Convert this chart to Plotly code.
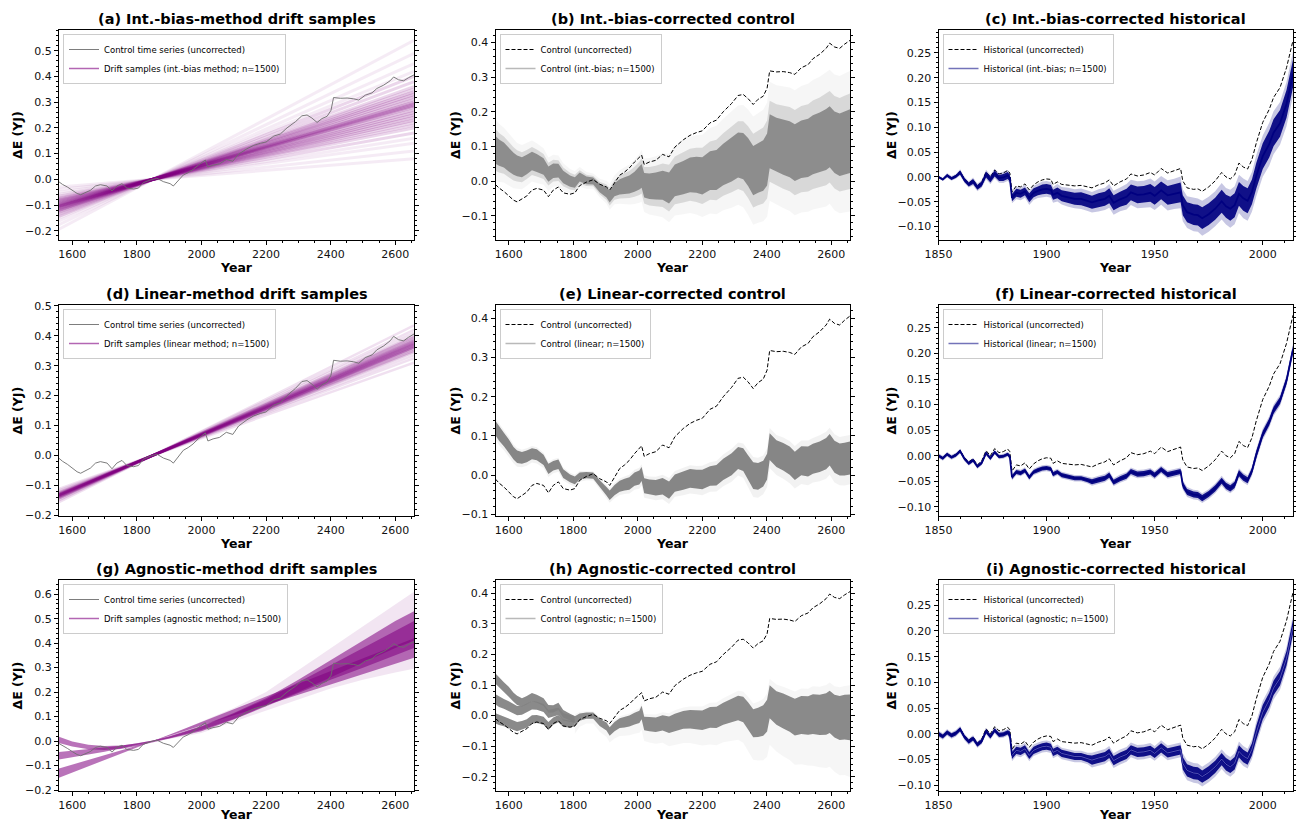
import plotly.graph_objects as go

# ======================= DATA =======================
# ---- control run (uncorrected), shared by the six control panels ----
ctrl_years = [1559, 1570, 1585, 1600, 1615, 1626, 1641, 1656, 1672, 1687, 1708, 1723, 1738, 1754, 1769, 1790, 1805,
              1820, 1841, 1862, 1882, 1903, 1913, 1928, 1944, 1959, 1974, 1990, 2005, 2012, 2020,
              2036, 2056, 2077, 2097, 2115, 2141, 2162, 2182, 2200, 2224,
              2244, 2265, 2291, 2311, 2327, 2342, 2358, 2373, 2389, 2401,
              2409, 2430, 2451, 2471, 2487, 2507, 2528, 2543, 2564, 2584, 2595, 2610, 2626, 2641, 2658]
ctrl_uncorrected = [-0.010, -0.020, -0.030, -0.043, -0.055, -0.060, -0.051, -0.043, -0.026, -0.021, -0.026, -0.045, -0.026, -0.017, -0.034, -0.038, -0.034,
                    -0.013, -0.003, 0.004, -0.009, -0.017, -0.026, -0.004, 0.017, 0.026, 0.038, 0.055, 0.068, 0.075, 0.048,
                    0.055, 0.060, 0.077, 0.070, 0.098, 0.119, 0.132, 0.140, 0.145, 0.168,
                    0.176, 0.200, 0.224, 0.247, 0.250, 0.238, 0.221, 0.236, 0.245, 0.268,
                    0.318, 0.315, 0.316, 0.313, 0.308, 0.327, 0.336, 0.353, 0.366, 0.383, 0.398, 0.387, 0.383, 0.395, 0.406]

# ---- (b) int.-bias-corrected control: band middle and half-width ----
ctrl_intbias_mid = [0.090, 0.082, 0.075, 0.062, 0.050, 0.044, 0.040, 0.048, 0.058, 0.052, 0.042, 0.020, 0.030, 0.030, 0.012, 0.000, -0.004,
                    0.012, 0.002, 0.000, -0.020, -0.032, -0.045, -0.025, -0.017, -0.013, -0.010, -0.002, 0.008, 0.015, -0.012,
                    -0.015, -0.014, -0.012, -0.020, 0.002, 0.010, 0.018, 0.018, 0.015, 0.030,
                    0.032, 0.048, 0.062, 0.075, 0.072, 0.055, 0.030, 0.038, 0.045, 0.062,
                    0.115, 0.105, 0.098, 0.092, 0.082, 0.092, 0.096, 0.105, 0.112, 0.120, 0.128, 0.112, 0.105, 0.110, 0.115]
ctrl_intbias_hw = [0.040, 0.038, 0.036, 0.034, 0.032, 0.030, 0.029, 0.028, 0.027, 0.026, 0.024, 0.022, 0.021, 0.020, 0.018, 0.016, 0.015,
                   0.013, 0.011, 0.010, 0.012, 0.015, 0.017, 0.019, 0.022, 0.024, 0.026, 0.029, 0.032, 0.034, 0.035,
                   0.037, 0.039, 0.042, 0.045, 0.046, 0.048, 0.050, 0.052, 0.054, 0.056,
                   0.058, 0.060, 0.063, 0.065, 0.067, 0.069, 0.071, 0.072, 0.073, 0.075,
                   0.078, 0.078, 0.080, 0.081, 0.082, 0.083, 0.084, 0.085, 0.086, 0.088, 0.088, 0.089, 0.090, 0.091, 0.092]

# ---- (e) linear-corrected control ----
ctrl_linear_mid = [0.120, 0.106, 0.091, 0.075, 0.056, 0.047, 0.044, 0.048, 0.055, 0.052, 0.039, 0.016, 0.024, 0.028, 0.004, -0.008, -0.013,
                   -0.002, 0.000, -0.001, -0.022, -0.041, -0.051, -0.038, -0.028, -0.024, -0.021, -0.010, -0.006, 0.003, -0.027,
                   -0.030, -0.032, -0.028, -0.038, -0.020, -0.014, -0.008, -0.010, -0.011, -0.002,
                   0.000, 0.015, 0.028, 0.044, 0.040, 0.020, -0.001, -0.003, 0.004, 0.022,
                   0.073, 0.055, 0.047, 0.037, 0.024, 0.037, 0.035, 0.042, 0.047, 0.055, 0.065, 0.047, 0.040, 0.041, 0.044]
ctrl_linear_hw = [0.018, 0.018, 0.017, 0.017, 0.016, 0.016, 0.015, 0.015, 0.014, 0.014, 0.013, 0.013, 0.012, 0.012, 0.011, 0.010, 0.010,
                  0.009, 0.008, 0.008, 0.009, 0.011, 0.012, 0.013, 0.014, 0.015, 0.016, 0.017, 0.018, 0.018, 0.019,
                  0.019, 0.020, 0.021, 0.022, 0.022, 0.023, 0.024, 0.024, 0.025, 0.025,
                  0.026, 0.027, 0.028, 0.028, 0.029, 0.031, 0.034, 0.034, 0.033, 0.033,
                  0.034, 0.034, 0.035, 0.036, 0.036, 0.037, 0.038, 0.038, 0.039, 0.040, 0.040, 0.041, 0.041, 0.042, 0.042]

# ---- (h) agnostic-corrected control: three separate families before ~1805, merged afterwards ----
agn_early_years = [1559, 1570, 1585, 1600, 1615, 1626, 1641, 1656, 1672, 1687, 1708, 1723, 1738, 1754, 1769, 1790, 1805]
agn_fam1_mid = [0.121, 0.108, 0.093, 0.078, 0.060, 0.050, 0.043, 0.050, 0.060, 0.055, 0.044, 0.022, 0.022, 0.030, 0.006, -0.005, -0.012]
agn_fam2_mid = [0.053, 0.045, 0.038, 0.031, 0.022, 0.016, 0.017, 0.024, 0.034, 0.032, 0.025, 0.005, 0.010, 0.014, -0.004, -0.010, -0.013]
agn_fam3_mid = [-0.009, -0.014, -0.019, -0.024, -0.032, -0.036, -0.032, -0.026, -0.013, -0.011, -0.017, -0.034, -0.018, -0.010, -0.025, -0.028, -0.025]
agn_fam_hw = [0.017, 0.017, 0.016, 0.016, 0.015, 0.015, 0.014, 0.014, 0.014, 0.013, 0.013, 0.013, 0.012, 0.012, 0.012, 0.011, 0.011]
agn_late_years = [1805, 1820, 1841, 1862, 1882, 1903, 1913, 1928, 1944, 1959, 1974, 1990, 2005, 2012, 2020,
                  2036, 2056, 2077, 2097, 2115, 2141, 2162, 2182, 2200, 2224,
                  2244, 2265, 2291, 2311, 2327, 2342, 2358, 2373, 2389, 2401,
                  2409, 2430, 2451, 2471, 2487, 2507, 2528, 2543, 2564, 2584, 2595, 2610, 2626, 2641, 2658]
agn_late_mid = [-0.018, -0.005, 0.000, 0.000, -0.022, -0.036, -0.052, -0.036, -0.025, -0.022, -0.018, -0.010, -0.004, 0.010, -0.026,
                -0.028, -0.030, -0.024, -0.030, -0.022, -0.014, -0.012, -0.014, -0.015, -0.006,
                -0.006, 0.006, 0.016, 0.025, 0.020, 0.000, -0.025, -0.022, -0.016, 0.000,
                0.045, 0.025, 0.015, 0.005, -0.005, 0.002, 0.000, 0.005, 0.002, 0.005, 0.012, -0.002, -0.008, -0.005, -0.006]
agn_late_hw = [0.016, 0.012, 0.010, 0.010, 0.012, 0.013, 0.014, 0.015, 0.016, 0.017, 0.018, 0.019, 0.020, 0.022, 0.022,
               0.023, 0.024, 0.025, 0.027, 0.028, 0.029, 0.030, 0.031, 0.032, 0.034,
               0.035, 0.036, 0.038, 0.040, 0.042, 0.044, 0.046, 0.048, 0.050, 0.052,
               0.054, 0.055, 0.057, 0.058, 0.060, 0.062, 0.063, 0.065, 0.066, 0.068, 0.069, 0.070, 0.072, 0.073, 0.075]

# ---- drift samples: straight lines through the pivot (1850, 0) ----
drift_years = [1559, 1850, 2658]
drift_pivot = 0.0
intbias_start = [-0.030, -0.040, -0.050, -0.058, -0.065, -0.072, -0.076, -0.079, -0.083, -0.086, -0.090, -0.094, -0.097, -0.100, -0.103,
                 -0.104, -0.106, -0.108, -0.112, -0.115, -0.119, -0.122, -0.126, -0.130, -0.137, -0.144, -0.151, -0.162, -0.176, -0.194]
intbias_end = [0.080, 0.110, 0.140, 0.160, 0.180, 0.200, 0.210, 0.220, 0.230, 0.240, 0.250, 0.260, 0.270, 0.280, 0.285,
               0.290, 0.295, 0.300, 0.310, 0.320, 0.330, 0.340, 0.350, 0.360, 0.380, 0.400, 0.420, 0.450, 0.490, 0.540]
linear_start = [-0.112, -0.117, -0.121, -0.124, -0.126, -0.128, -0.130, -0.131, -0.132, -0.133,
                -0.134, -0.135, -0.137, -0.139, -0.140, -0.142, -0.144, -0.148, -0.151, -0.157]
linear_end = [0.310, 0.325, 0.335, 0.345, 0.350, 0.355, 0.360, 0.363, 0.366, 0.370,
              0.373, 0.376, 0.380, 0.385, 0.390, 0.395, 0.400, 0.410, 0.420, 0.435]

# ---- (g) agnostic drift families (envelopes) ----
agn_drift_years = [1559, 1600, 1650, 1700, 1750, 1800, 1850, 1900, 1950, 2000, 2100, 2200, 2300, 2400, 2500, 2600, 2658]
agn_lin_lo = [-0.150, -0.129, -0.103, -0.077, -0.052, -0.026, 0.000, 0.021, 0.042, 0.063, 0.105, 0.147, 0.189, 0.231, 0.273, 0.315, 0.340]
agn_lin_hi = [-0.112, -0.096, -0.077, -0.058, -0.038, -0.019, 0.000, 0.026, 0.052, 0.078, 0.130, 0.182, 0.234, 0.286, 0.338, 0.390, 0.420]
agn_q2_lo = [-0.075, -0.066, -0.055, -0.044, -0.032, -0.017, -0.002, 0.012, 0.028, 0.045, 0.090, 0.145, 0.200, 0.260, 0.320, 0.380, 0.410]
agn_q2_hi = [-0.045, -0.040, -0.034, -0.027, -0.019, -0.009, 0.002, 0.020, 0.040, 0.062, 0.115, 0.175, 0.250, 0.330, 0.410, 0.490, 0.530]
agn_q1_lo = [-0.008, -0.022, -0.033, -0.036, -0.032, -0.020, -0.002, 0.010, 0.025, 0.040, 0.088, 0.140, 0.195, 0.250, 0.300, 0.350, 0.380]
agn_q1_hi = [0.018, -0.002, -0.015, -0.020, -0.018, -0.010, 0.002, 0.018, 0.038, 0.060, 0.112, 0.170, 0.240, 0.310, 0.380, 0.450, 0.490]
agn_faint_years = [1850, 1900, 1950, 2000, 2100, 2200, 2300, 2400, 2500, 2600, 2658]
agn_faint_lo = [0.000, 0.008, 0.020, 0.033, 0.078, 0.125, 0.170, 0.215, 0.250, 0.280, 0.295]
agn_faint_hi = [0.000, 0.024, 0.050, 0.080, 0.135, 0.200, 0.290, 0.380, 0.470, 0.560, 0.610]

# ---- historical run ----
hist_years = [1850, 1852, 1854, 1856, 1858, 1860, 1862, 1864, 1866, 1868, 1870, 1872, 1874, 1876, 1878, 1880, 1882,
              1883, 1884, 1886, 1888, 1890, 1892, 1894, 1896, 1898, 1900, 1902, 1903, 1905, 1907,
              1910, 1913, 1916, 1919,
              1921, 1924, 1927, 1929, 1931, 1934, 1937, 1939, 1942, 1945, 1948, 1950, 1953, 1956, 1959, 1962,
              1963, 1965, 1968, 1970, 1972, 1975, 1978, 1981, 1983, 1985, 1987, 1989, 1991, 1993, 1995, 1997,
              2000, 2003, 2005, 2008, 2011, 2014]
hist_uncorrected = [0.000, -0.004, 0.004, -0.002, 0.003, 0.011, -0.004, -0.012, -0.006, -0.018, -0.010, 0.010, 0.000, 0.014, 0.006, 0.008, 0.013,
                    0.008, -0.030, -0.018, -0.020, -0.014, -0.026, -0.016, -0.010, -0.006, -0.004, -0.005, -0.015, -0.010, -0.015,
                    -0.016, -0.018, -0.017, -0.020,
                    -0.022, -0.016, -0.012, -0.006, -0.018, -0.010, -0.004, 0.006, 0.002, 0.004, 0.009, 0.004, 0.017, 0.008, 0.012, 0.017,
                    -0.008, -0.022, -0.025, -0.024, -0.029, -0.020, -0.008, 0.009, 0.000, -0.004, 0.004, 0.028, 0.020, 0.016, 0.035, 0.068,
                    0.110, 0.136, 0.160, 0.180, 0.220, 0.275]
hist_corrected = [0.000, -0.005, 0.003, -0.003, 0.001, 0.009, -0.006, -0.015, -0.009, -0.021, -0.014, 0.005, -0.005, 0.007, -0.002, -0.001, 0.003,
                  -0.002, -0.042, -0.032, -0.034, -0.029, -0.042, -0.032, -0.028, -0.025, -0.024, -0.026, -0.036, -0.032, -0.038,
                  -0.041, -0.044, -0.044, -0.048,
                  -0.051, -0.047, -0.044, -0.038, -0.052, -0.045, -0.040, -0.031, -0.036, -0.035, -0.032, -0.038, -0.027, -0.037, -0.034, -0.031,
                  -0.057, -0.071, -0.076, -0.077, -0.083, -0.075, -0.064, -0.049, -0.059, -0.064, -0.057, -0.034, -0.043, -0.048, -0.030, 0.002,
                  0.042, 0.066, 0.089, 0.108, 0.147, 0.208]
hist_intbias_hw = [0.002, 0.002, 0.003, 0.003, 0.003, 0.004, 0.004, 0.004, 0.005, 0.005, 0.005, 0.006, 0.006, 0.006, 0.006, 0.007, 0.007,
                   0.007, 0.007, 0.008, 0.008, 0.008, 0.009, 0.009, 0.009, 0.010, 0.010, 0.010, 0.010, 0.011, 0.011,
                   0.012, 0.012, 0.013, 0.013,
                   0.013, 0.014, 0.014, 0.015, 0.015, 0.015, 0.016, 0.016, 0.017, 0.017, 0.018, 0.018, 0.018, 0.019, 0.019, 0.020,
                   0.020, 0.020, 0.021, 0.021, 0.022, 0.022, 0.022, 0.023, 0.023, 0.024, 0.024, 0.024, 0.025, 0.025, 0.025, 0.026,
                   0.026, 0.027, 0.027, 0.027, 0.028, 0.028]
hist_linear_hw = [0.003, 0.003, 0.003, 0.003, 0.003, 0.003, 0.003, 0.003, 0.003, 0.003, 0.003, 0.003, 0.003, 0.003, 0.003, 0.003, 0.003,
                  0.004, 0.004, 0.004, 0.004, 0.004, 0.004, 0.004, 0.004, 0.004, 0.004, 0.004, 0.004, 0.004, 0.004,
                  0.004, 0.004, 0.004, 0.004,
                  0.005, 0.005, 0.005, 0.005, 0.005, 0.005, 0.005, 0.005, 0.005, 0.005, 0.005, 0.005, 0.005, 0.005, 0.005, 0.005,
                  0.006, 0.006, 0.006, 0.006, 0.006, 0.006, 0.006, 0.006, 0.006, 0.006, 0.006, 0.006, 0.006, 0.006, 0.006, 0.007,
                  0.007, 0.007, 0.007, 0.007, 0.007, 0.007]
hist_agnostic_hw = [0.004, 0.004, 0.004, 0.004, 0.004, 0.004, 0.004, 0.004, 0.004, 0.004, 0.004, 0.004, 0.004, 0.004, 0.004, 0.004, 0.004,
                    0.007, 0.007, 0.007, 0.007, 0.007, 0.007, 0.007, 0.007, 0.007, 0.007, 0.007, 0.007, 0.007, 0.007,
                    0.007, 0.007, 0.007, 0.007,
                    0.009, 0.009, 0.009, 0.009, 0.009, 0.009, 0.009, 0.009, 0.009, 0.009, 0.009, 0.009, 0.009, 0.009, 0.009, 0.009,
                    0.012, 0.012, 0.012, 0.012, 0.012, 0.012, 0.012, 0.012, 0.012, 0.012, 0.012, 0.012, 0.012, 0.012, 0.012, 0.014,
                    0.014, 0.014, 0.014, 0.014, 0.014, 0.014]

titles = ["(a) Int.-bias-method drift samples", "(b) Int.-bias-corrected control", "(c) Int.-bias-corrected historical",
          "(d) Linear-method drift samples", "(e) Linear-corrected control", "(f) Linear-corrected historical",
          "(g) Agnostic-method drift samples", "(h) Agnostic-corrected control", "(i) Agnostic-corrected historical"]
method_names = ["int.-bias", "linear", "agnostic"]
x_label = "Year"
y_label = "ΔE (YJ)"

for arr in [ctrl_uncorrected, ctrl_intbias_mid, ctrl_intbias_hw, ctrl_linear_mid, ctrl_linear_hw]:
    assert len(arr) == len(ctrl_years), len(arr)
for arr in [agn_fam1_mid, agn_fam2_mid, agn_fam3_mid, agn_fam_hw]:
    assert len(arr) == len(agn_early_years)
for arr in [agn_late_mid, agn_late_hw]:
    assert len(arr) == len(agn_late_years)
for arr in [hist_uncorrected, hist_corrected, hist_intbias_hw, hist_linear_hw, hist_agnostic_hw]:
    assert len(arr) == len(hist_years), len(arr)
for arr in [agn_lin_lo, agn_lin_hi, agn_q1_lo, agn_q1_hi, agn_q2_lo, agn_q2_hi]:
    assert len(arr) == len(agn_drift_years)

# ======================= LAYOUT / STYLE =======================
W, H = 1296, 824
COLS = [(59, 414), (495.5, 850), (938.5, 1293)]
ROWS = [(30, 240), (305, 516), (580, 791)]
YLABEL_X = [17, 455, 891]
XLABEL_GAP = [27, 27, 23]
Y_RANGES = [[-0.236, 0.5805], [-0.17, 0.436], [-0.127, 0.296],
            [-0.203, 0.503], [-0.104, 0.434], [-0.118, 0.295],
            [-0.204, 0.658], [-0.247, 0.444], [-0.111, 0.299]]
PURPLE = "128,0,128"
GREY = "128,128,128"
NAVY = "0,0,128"
FONT = "DejaVu Sans"

fig = go.Figure()


def refs(k):
    return ("x" if k == 0 else f"x{k + 1}", "y" if k == 0 else f"y{k + 1}",
            "legend" if k == 0 else f"legend{k + 1}")


def add(k, **kw):
    xa, ya, lg = refs(k)
    kw.setdefault("showlegend", False)
    fig.add_trace(go.Scatter(xaxis=xa, yaxis=ya, legend=lg, hoverinfo="skip", **kw))


def band(k, xs, mid, hw, rgba, scale_lo=1.0, scale_hi=1.0):
    lo = [m - scale_lo * h for m, h in zip(mid, hw)]
    hi = [m + scale_hi * h for m, h in zip(mid, hw)]
    add(k, x=list(xs) + list(xs)[::-1], y=hi + lo[::-1], mode="lines", fill="toself",
        fillcolor=rgba, line=dict(width=0))


def band_lohi(k, xs, lo, hi, rgba):
    add(k, x=list(xs) + list(xs)[::-1], y=list(hi) + list(lo)[::-1], mode="lines", fill="toself",
        fillcolor=rgba, line=dict(width=0))


def legend_entry(k, name, line, rank):
    add(k, x=[None], y=[None], mode="lines", line=line, name=name, showlegend=True, legendrank=rank)


def sample_alpha(i, n, core, edge):
    """Outer samples of the fan are drawn fainter than the central ones."""
    d = abs(i - (n - 1) / 2) / ((n - 1) / 2)
    return edge if d > 0.75 else (core if d < 0.45 else (core + edge) / 2)


# ---------- column 1: drift samples ----------
for k, (starts, ends, width, core, edge) in zip(
        [0, 3], [(intbias_start, intbias_end, 3.0, 0.24, 0.08), (linear_start, linear_end, 2.5, 0.3, 0.12)]):
    n = len(starts)
    for i, (s, e) in enumerate(zip(starts, ends)):
        add(k, x=drift_years, y=[s, drift_pivot, e], mode="lines",
            line=dict(color=f"rgba({PURPLE},{sample_alpha(i, n, core, edge):.3f})", width=width))

# (g) agnostic families
band_lohi(6, agn_faint_years, agn_faint_lo, agn_faint_hi, f"rgba({PURPLE},0.10)")
for lo, hi in [(agn_lin_lo, agn_lin_hi), (agn_q2_lo, agn_q2_hi), (agn_q1_lo, agn_q1_hi)]:
    band_lohi(6, agn_drift_years, lo, hi, f"rgba({PURPLE},0.55)")

for k, mname in zip([0, 3, 6], method_names):
    add(k, x=ctrl_years, y=ctrl_uncorrected, mode="lines", line=dict(color="#6e6e6e", width=0.9),
        name="Control time series (uncorrected)", showlegend=True, legendrank=1)
    legend_entry(k, f"Drift samples ({mname} method; n=1500)",
                 dict(color=f"rgba({PURPLE},0.6)", width=1.5), 2)

# ---------- column 2: corrected control ----------
# (b)
band(1, ctrl_years, ctrl_intbias_mid, ctrl_intbias_hw, f"rgba({GREY},0.07)", 2.2, 2.2)
band(1, ctrl_years, ctrl_intbias_mid, ctrl_intbias_hw, f"rgba({GREY},0.25)", 1.5, 1.5)
band(1, ctrl_years, ctrl_intbias_mid, ctrl_intbias_hw, f"rgba({GREY},0.85)")
# (e)
band(4, ctrl_years, ctrl_linear_mid, ctrl_linear_hw, f"rgba({GREY},0.10)", 1.6, 1.4)
band(4, ctrl_years, ctrl_linear_mid, ctrl_linear_hw, f"rgba({GREY},0.95)")
# (h)
band(7, agn_late_years, agn_late_mid, agn_late_hw, f"rgba({GREY},0.07)", 2.6, 1.4)
band(7, agn_late_years, agn_late_mid, agn_late_hw, f"rgba({GREY},0.92)")
for fam in [agn_fam1_mid, agn_fam2_mid, agn_fam3_mid]:
    band(7, agn_early_years, fam, agn_fam_hw, f"rgba({GREY},0.92)")

for k, mname in zip([1, 4, 7], method_names):
    add(k, x=ctrl_years, y=ctrl_uncorrected, mode="lines", line=dict(color="black", width=1, dash="4px,2px"),
        name="Control (uncorrected)", showlegend=True, legendrank=1)
    legend_entry(k, f"Control ({mname}; n=1500)", dict(color=f"rgba({GREY},0.55)", width=1.5), 2)

# ---------- column 3: corrected historical ----------
for k, mname, hw in zip([2, 5, 8], method_names, [hist_intbias_hw, hist_linear_hw, hist_agnostic_hw]):
    add(k, x=hist_years, y=hist_uncorrected, mode="lines", line=dict(color="black", width=1, dash="4px,2px"),
        name="Historical (uncorrected)", showlegend=True, legendrank=1)
    band(k, hist_years, hist_corrected, hw, f"rgba({NAVY},0.22)", 1.6, 1.6)
    band(k, hist_years, hist_corrected, hw, f"rgba({NAVY},0.92)")
    add(k, x=hist_years, y=hist_corrected, mode="lines", line=dict(color=f"rgb({NAVY})", width=1.8))
    legend_entry(k, f"Historical ({mname}; n=1500)", dict(color=f"rgba({NAVY},0.55)", width=1.5), 2)
# light gap between the two agnostic families in (i)
add(8, x=hist_years[18:], y=hist_corrected[18:], mode="lines", line=dict(color="rgba(150,150,215,0.8)", width=0.7))

# ---------- axes, titles, legends ----------
layout = dict(width=W, height=H, margin=dict(l=0, r=0, t=0, b=0), template="none",
              paper_bgcolor="white", plot_bgcolor="white",
              font=dict(family=FONT, color="black", size=11),
              annotations=[])
for k in range(9):
    r, c = divmod(k, 3)
    xname = "xaxis" if k == 0 else f"xaxis{k + 1}"
    yname = "yaxis" if k == 0 else f"yaxis{k + 1}"
    lname = "legend" if k == 0 else f"legend{k + 1}"
    xa, ya, _ = refs(k)
    hist = (c == 2)
    common = dict(showline=True, linecolor="black", linewidth=1, ticks="outside", ticklen=4, tickwidth=1,
                  tickcolor="black", showgrid=False, zeroline=False, automargin=False,
                  tickfont=dict(size=11, color="#111"))
    layout[xname] = dict(common, domain=[COLS[c][0] / W, COLS[c][1] / W], anchor=ya, mirror=True,
                         range=[1850, 2014] if hist else [1559, 2658],
                         tick0=0, dtick=50 if hist else 200, tickformat="d",
                         minor=dict(ticks="outside", ticklen=2, tickcolor="black", dtick=10 if hist else 50,
                                    showgrid=False))
    ydt = 0.05 if hist else 0.1
    layout[yname] = dict(common, domain=[1 - ROWS[r][1] / H, 1 - ROWS[r][0] / H], anchor=xa, mirror="allticks",
                         range=Y_RANGES[k], tick0=0, dtick=ydt, tickformat=".2f" if hist else ".1f",
                         minor=dict(ticks="outside", ticklen=2, tickcolor="black", dtick=ydt / 5, showgrid=False))
    layout[lname] = dict(x=(COLS[c][0] + 4) / W, y=1 - (ROWS[r][0] + 4) / H, xanchor="left", yanchor="top",
                         bgcolor="rgba(255,255,255,0.85)", bordercolor="#cccccc", borderwidth=1,
                         font=dict(size=8.5, family=FONT), tracegroupgap=0, itemwidth=30)
    # panel title
    layout["annotations"].append(dict(text=f"<b>{titles[k]}</b>", x=(COLS[c][0] + COLS[c][1]) / 2 / W,
                                      y=1 - (ROWS[r][0] - 11) / H, xref="paper", yref="paper",
                                      showarrow=False, xanchor="center", yanchor="middle",
                                      font=dict(size=14.5, family=FONT)))
    # axis titles
    layout["annotations"].append(dict(text=f"<b>{x_label}</b>", x=(COLS[c][0] + COLS[c][1]) / 2 / W,
                                      y=1 - (ROWS[r][1] + XLABEL_GAP[r]) / H, xref="paper", yref="paper",
                                      showarrow=False, xanchor="center", yanchor="middle",
                                      font=dict(size=12.5, family=FONT)))
    layout["annotations"].append(dict(text=f"<b>{y_label}</b>", x=YLABEL_X[c] / W,
                                      y=1 - (ROWS[r][0] + ROWS[r][1]) / 2 / H, xref="paper", yref="paper",
                                      showarrow=False, xanchor="center", yanchor="middle", textangle=-90,
                                      font=dict(size=12.5, family=FONT)))

fig.update_layout(**layout)
fig.write_html("out.html")
